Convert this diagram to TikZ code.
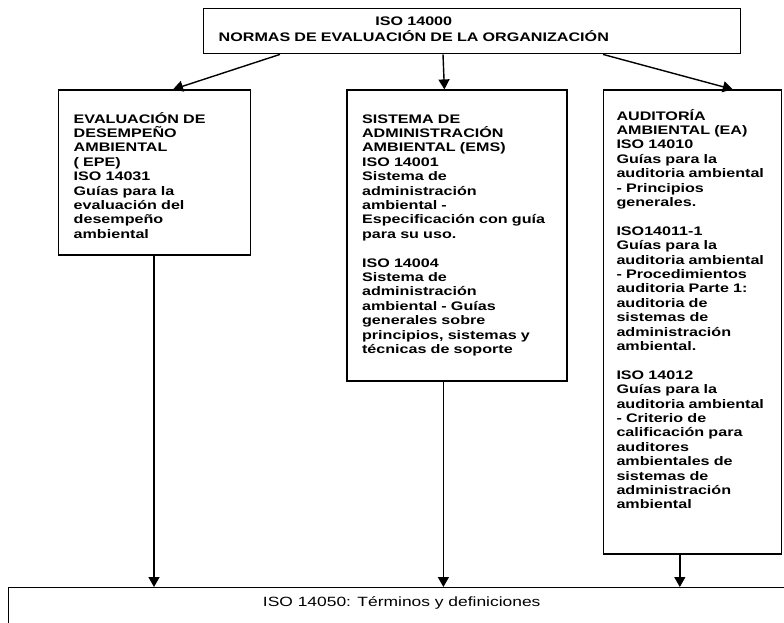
\documentclass[tikz,border=0pt]{standalone}
\usepackage{fontspec}
\setmainfont{Liberation Sans}[FakeStretch=1.3]
\usetikzlibrary{positioning,arrows.meta}

\begin{document}
\begin{tikzpicture}[
x = 1pt, y = -1pt,
line width = 1.4pt,
stdbox/.style={draw=black, align=left, inner xsep = 15pt, inner ysep = 0pt, text height = 33pt, anchor = north west, font=\bfseries\fontsize{12.4}{14.4}\selectfont},
arr/.style={-{Triangle[width=11pt, length=10pt]}}]

\useasboundingbox (0,0) rectangle (784,622);

\node[stdbox, text width = 507pt, text height = 17pt, text depth = 28pt] (iso) at (203,8)
  {\begin{tabular}[t]{@{}c@{}}ISO 14000\\ NORMAS DE EVALUACIÓN DE LA ORGANIZACIÓN\end{tabular}};
\node[stdbox, text width = 162pt, text depth = 132pt] (epe) [below left = 35pt and 145pt of iso.south west, anchor = north west]
  {EVALUACIÓN DE\\ DESEMPEÑO\\ AMBIENTAL\\ ( EPE)\\ ISO 14031\\ Guías para la\\ evaluación del\\ desempeño\\ ambiental};
\node[stdbox, text width = 190pt, text depth = 258pt] (ems) [right = 95pt of epe.north east, anchor = north west]
  {SISTEMA DE\\ ADMINISTRACIÓN\\ AMBIENTAL (EMS)\\ ISO 14001\\ Sistema de\\ administración\\ ambiental -\\ Especificación con guía\\ para su uso.\\[14.4pt]
   ISO 14004\\ Sistema de\\ administración\\ ambiental - Guías\\ generales sobre\\ principios, sistemas y\\ técnicas de soporte};
\node[stdbox, inner xsep = 13pt, text width = 152pt, text height = 30pt, text depth = 434pt] (ea) [right = 35pt of ems.north east, anchor = north west]
  {AUDITORÍA\\ AMBIENTAL (EA)\\ ISO 14010\\ Guías para la\\ auditoria ambiental\\ - Principios\\ generales.\\[14.4pt]
   ISO14011-1\\ Guías para la\\ auditoria ambiental\\ - Procedimientos\\ auditoria Parte 1:\\ auditoria de\\ sistemas de\\ administración\\ ambiental.\\[14.4pt]
   ISO 14012\\ Guías para la\\ auditoria ambiental\\ - Criterio de\\ calificación para\\ auditores\\ ambientales de\\ sistemas de\\ administración\\ ambiental};
\node[draw=black, anchor = north west, minimum width = 786pt, inner sep = 0pt, text height = 19pt, text depth = 40pt, font=\fontsize{13.4}{15}\selectfont] (terms) at (8,587)
  {ISO 14050: Términos y definiciones};

\coordinate (epedown) at ([xshift=96pt]epe.south west);
\coordinate (emsdown) at ([xshift=97pt]ems.south west);
\coordinate (eadown) at ([xshift=77pt]ea.south west);

\draw[arr] ([xshift=77pt]iso.south west) -- ([xshift=115pt]epe.north west);
\draw[arr] ([xshift=240pt]iso.south west) -- ([xshift=98pt]ems.north west);
\draw[arr] ([xshift=400pt]iso.south west) -- ([xshift=130pt]ea.north west);
\draw[arr] (epedown) -- (epedown |- terms.north);
\draw[arr] (emsdown) -- (emsdown |- terms.north);
\draw[arr] (eadown) -- (eadown |- terms.north);
\end{tikzpicture}
\end{document}
